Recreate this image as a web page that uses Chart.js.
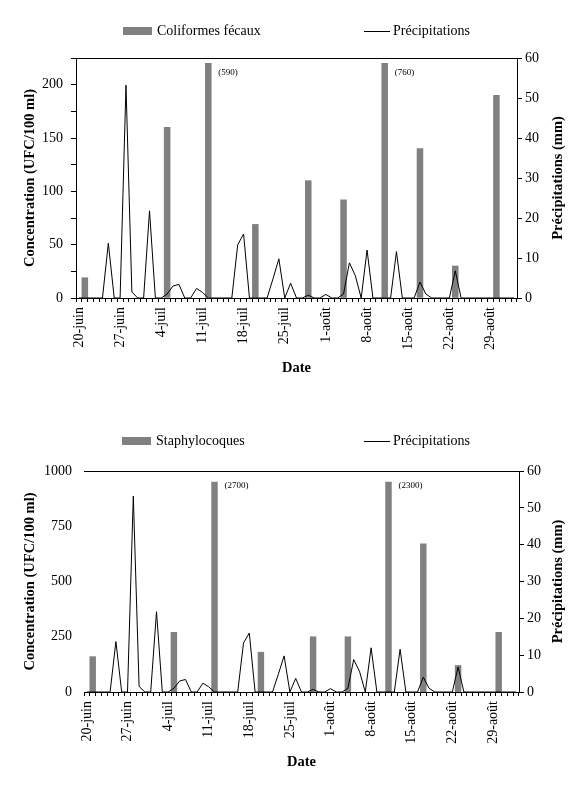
<!DOCTYPE html>
<html><head><meta charset="utf-8">
<script src="https://cdn.jsdelivr.net/npm/chart.js@4.4.1/dist/chart.umd.min.js"></script>
<style>
html,body{margin:0;padding:0;background:#fff;}
#wrap{position:relative;width:582px;height:791px;overflow:hidden;}
canvas{position:absolute;left:0;}
</style></head><body>
<div id="wrap">
<canvas id="c1" width="582" height="395" style="top:0"></canvas>
<canvas id="c2" width="582" height="396" style="top:395px"></canvas>
</div>
<script>
// ---- data ----
const categories = [
 '20-juin','21-juin','22-juin','23-juin','24-juin','25-juin','26-juin','27-juin','28-juin','29-juin','30-juin',
 '1-juil','2-juil','3-juil','4-juil','5-juil','6-juil','7-juil','8-juil','9-juil','10-juil','11-juil','12-juil','13-juil','14-juil','15-juil','16-juil','17-juil','18-juil','19-juil','20-juil','21-juil','22-juil','23-juil','24-juil','25-juil','26-juil','27-juil','28-juil','29-juil','30-juil','31-juil',
 '1-août','2-août','3-août','4-août','5-août','6-août','7-août','8-août','9-août','10-août','11-août','12-août','13-août','14-août','15-août','16-août','17-août','18-août','19-août','20-août','21-août','22-août','23-août','24-août','25-août','26-août','27-août','28-août','29-août','30-août','31-août',
 '1-sept','2-sept'
];
const tickLabels = ['20-juin','27-juin','4-juil','11-juil','18-juil','25-juil','1-août','8-août','15-août','22-août','29-août'];
const sampleDates = ['21-juin','5-juil','12-juil','20-juil','29-juil','4-août','11-août','17-août','23-août','30-août'];
const coliformes = [19,160,590,69,110,92,760,140,30,190];
const staphylocoques = [160,270,2700,180,250,250,2300,670,120,270];
const precipitations = [
 0,0,0,0,0,13.7,0,0,53.2,1.5,0,
 0,21.8,0,0,1,3,3.4,0,0,2.4,1.4,0,0,0,0,0,13.3,16,0,0,0,0,4.8,9.8,0,3.7,0,0,0.7,0,0,
 0.9,0,0,1,8.8,5.6,0,12,0,0,0,0,11.6,0,0,0,4,1,0,0,0,0,6.8,0,0,0,0,0,0,0,0,
 0,0
];
const leftTicksTop = [0,50,100,150,200];
const leftTicksBottom = [0,250,500,750,1000];

// ---- style ----
const FONT = "'Liberation Serif','Times New Roman',serif";
Chart.defaults.font.family = FONT;
Chart.defaults.color = '#000';

function toSeries(values, cap){
  const arr = categories.map(() => null);
  sampleDates.forEach((d, i) => { arr[categories.indexOf(d)] = Math.min(values[i], cap); });
  return arr;
}

const manualLegend = {
  id: 'manualLegend',
  afterDraw(chart, args, o) {
    const ctx = chart.ctx;
    ctx.save();
    ctx.font = o.font;
    ctx.textBaseline = 'middle';
    ctx.textAlign = 'left';
    chart.data.datasets.forEach((ds, i) => {
      const it = o.items[i];
      if (ds.type === 'bar') {
        ctx.fillStyle = ds.backgroundColor;
        ctx.fillRect(it.x, o.y - it.h / 2, it.w, it.h);
      } else {
        ctx.strokeStyle = ds.borderColor;
        ctx.lineWidth = 1;
        ctx.beginPath();
        ctx.moveTo(it.x, Math.round(o.y) + 0.5);
        ctx.lineTo(it.x + it.w, Math.round(o.y) + 0.5);
        ctx.stroke();
      }
      ctx.fillStyle = '#000';
      ctx.fillText(ds.label, it.x + it.w + it.gap, o.y);
    });
    ctx.restore();
  }
};

const frameAndNotes = {
  id: 'frameAndNotes',
  afterDatasetsDraw(chart, args, o) {
    const ctx = chart.ctx, a = chart.chartArea;
    ctx.save();
    ctx.strokeStyle = '#000';
    ctx.lineWidth = 1;
    ctx.beginPath();
    ctx.moveTo(a.left, Math.round(a.top) + 0.5);
    ctx.lineTo(a.right, Math.round(a.top) + 0.5);
    ctx.stroke();
    const xs = chart.scales.x;
    ctx.font = o.font;
    ctx.fillStyle = '#000';
    ctx.textBaseline = 'middle';
    ctx.textAlign = 'left';
    o.values.forEach((v, i) => {
      if (v > o.cap) {
        const px = xs.getPixelForValue(categories.indexOf(sampleDates[i]));
        ctx.fillText('(' + v + ')', px + o.dx, a.top + o.dy);
      }
    });
    ctx.restore();
  },
  afterDraw(chart, args, o) {
    // right axis title, reading bottom-to-top as in the reference
    const ctx = chart.ctx, a = chart.chartArea;
    ctx.save();
    ctx.font = o.titleFont;
    ctx.fillStyle = '#000';
    ctx.textAlign = 'center';
    ctx.textBaseline = 'middle';
    ctx.translate(o.rightTitleX, (a.top + a.bottom) / 2);
    ctx.rotate(-Math.PI / 2);
    ctx.fillText(o.rightTitle, 0, 0);
    ctx.restore();
  }
};

function makeChart(id, cfg) {
  const bold = {family: FONT, size: 14.5, weight: 'bold'};
  const tickFont = {family: FONT, size: 14};
  return new Chart(document.getElementById(id), {
    type: 'bar',
    data: {
      labels: categories,
      datasets: [
        {type: 'bar', label: cfg.barLabel, data: toSeries(cfg.values, cfg.cap),
         backgroundColor: '#808080', borderWidth: 0, barPercentage: 1, categoryPercentage: 1,
         yAxisID: 'y', order: 2},
        {type: 'line', label: 'Précipitations', data: precipitations,
         borderColor: '#000', borderWidth: 1, pointRadius: 0, tension: 0, fill: false,
         yAxisID: 'y1', order: 1}
      ]
    },
    options: {
      responsive: false,
      animation: false,
      layout: {padding: {top: cfg.top, left: 0, right: 0, bottom: 0}},
      plugins: {
        legend: {display: false},
        tooltip: {enabled: false},
        manualLegend: {font: '14px ' + FONT, y: cfg.legendY, items: cfg.legendItems},
        frameAndNotes: {font: '9px ' + FONT, values: cfg.values, cap: cfg.cap, dx: 10, dy: 15,
          titleFont: 'bold 14.5px ' + FONT, rightTitle: 'Précipitations (mm)', rightTitleX: 558.5}
      },
      scales: {
        x: {
          type: 'category', offset: true,
          grid: {offset: true, drawOnChartArea: false, drawTicks: true, tickLength: 4, color: '#000'},
          border: {display: true, color: '#000', width: 1},
          ticks: {autoSkip: false, maxRotation: 90, minRotation: 90, padding: 5, font: tickFont, color: '#000',
            callback: function(v) { const l = this.getLabelForValue(v); return tickLabels.includes(l) ? l : ''; }},
          title: {display: true, text: 'Date', font: bold, color: '#000', padding: {top: 0, bottom: cfg.dateTitlePad}},
          afterFit: s => { s.height = cfg.xHeight; }
        },
        y: {
          position: 'left', min: 0, max: cfg.leftMax,
          grid: {display: cfg.leftTicks, drawOnChartArea: false, drawTicks: cfg.leftTicks, tickLength: 5, color: '#000'},
          border: {display: cfg.leftLine, color: '#000', width: 1},
          ticks: {stepSize: cfg.leftStep, padding: cfg.leftPad, font: tickFont, color: '#000',
            callback: v => cfg.leftLabels.includes(v) ? String(v) : ''},
          title: {display: true, text: 'Concentration (UFC/100 ml)', font: bold, color: '#000', padding: {top: 21.8, bottom: 0}},
          afterFit: s => { s.width = cfg.leftWidth; }
        },
        y1: {
          position: 'right', min: 0, max: 60,
          grid: {drawOnChartArea: false, drawTicks: true, tickLength: 5, color: '#000'},
          border: {display: true, color: '#000', width: 1},
          ticks: {stepSize: 10, padding: 3, font: tickFont, color: '#000'},
          title: {display: false, text: 'Précipitations (mm)'},
          afterFit: s => { s.width = cfg.rightWidth; }
        }
      }
    },
    plugins: [manualLegend, frameAndNotes]
  });
}

makeChart('c1', {
  barLabel: 'Coliformes fécaux', values: coliformes, cap: 220,
  top: 58, leftMax: 225, leftStep: 25, leftLabels: leftTicksTop, leftTicks: true, leftLine: true, leftPad: 8,
  leftWidth: 76, rightWidth: 65, xHeight: 97, dateTitlePad: 18.3,
  legendY: 31,
  legendItems: [{x: 123, w: 29, h: 8, gap: 5}, {x: 364, w: 26, h: 1, gap: 3}]
});
makeChart('c2', {
  barLabel: 'Staphylocoques', values: staphylocoques, cap: 950,
  top: 76, leftMax: 1000, leftStep: 250, leftLabels: leftTicksBottom, leftTicks: false, leftLine: false, leftPad: 12,
  leftWidth: 84, rightWidth: 63, xHeight: 99, dateTitlePad: 20.3,
  legendY: 46,
  legendItems: [{x: 122, w: 29, h: 8, gap: 5}, {x: 364, w: 26, h: 1, gap: 3}]
});
</script>
</body></html>
